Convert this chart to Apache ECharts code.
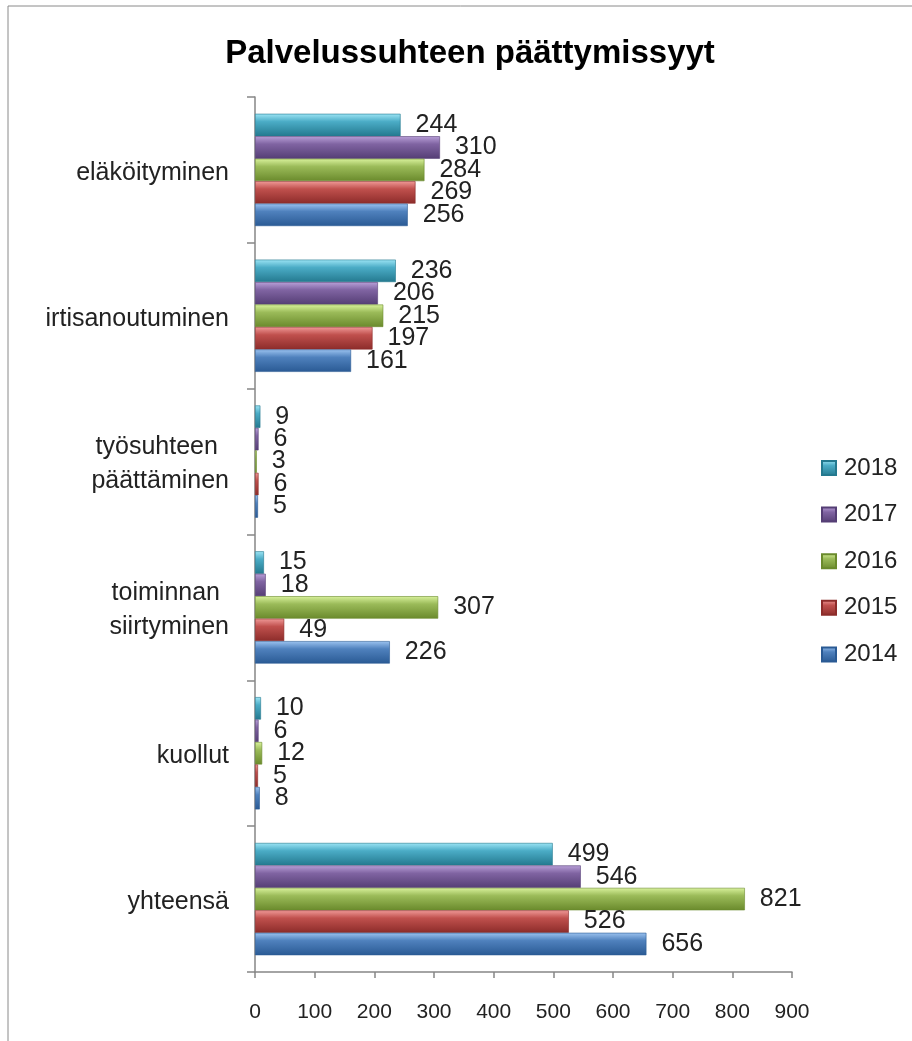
<!DOCTYPE html>
<html><head><meta charset="utf-8">
<script src="https://cdn.jsdelivr.net/npm/echarts@6/dist/echarts.min.js"></script>
<style>html,body{margin:0;padding:0;background:#fff}#c{width:912px;height:1041px}</style>
</head><body><div id="c"></div>
<script>
const categories = ['eläköityminen', 'irtisanoutuminen', 'työsuhteen \npäättäminen', 'toiminnan \nsiirtyminen', 'kuollut', 'yhteensä'];
const years = ['2014', '2015', '2016', '2017', '2018'];
const v2014 = [256, 161, 5, 226, 8, 656];
const v2015 = [269, 197, 6, 49, 5, 526];
const v2016 = [284, 215, 3, 307, 12, 821];
const v2017 = [310, 206, 6, 18, 6, 546];
const v2018 = [244, 236, 9, 15, 10, 499];
const xTicks = [0, 900, 100];

const values = [v2014, v2015, v2016, v2017, v2018];
const palettes = [
  ['#9cc3f0', '#4f81bd', '#2a5a94'],
  ['#f09a98', '#c0504d', '#8c2c2a'],
  ['#d9f29c', '#9bbb59', '#6a8a2c'],
  ['#b9a0d8', '#8064a2', '#553e75'],
  ['#9de5f5', '#4bacc6', '#24798f']
];
const FONT = 'Liberation Sans, Arial, sans-serif';
function grad(p) {
  return new echarts.graphic.LinearGradient(0, 0, 0, 1, [
    {offset: 0, color: p[0]}, {offset: 0.35, color: p[1]}, {offset: 1, color: p[2]}
  ]);
}
const order = [4, 3, 2, 1, 0];
const chart = echarts.init(document.getElementById('c'));
chart.setOption({
  animation: false,
  title: {
    text: 'Palvelussuhteen päättymissyyt', left: 465, top: 32, textAlign: 'center',
    textStyle: {fontFamily: FONT, fontSize: 33, fontWeight: 'bold', color: '#000'}
  },
  graphic: [{type: 'rect', shape: {x: 8, y: 6, width: 1000, height: 1100}, style: {fill: 'none', stroke: '#8a8a8a', lineWidth: 1}, silent: true}],
  legend: {
    orient: 'vertical', left: 816, top: 449, itemWidth: 14, itemHeight: 14, itemGap: 18.6,
    data: years.slice().reverse(), icon: 'rect',
    textStyle: {fontFamily: FONT, fontSize: 24, color: '#222', lineHeight: 28, padding: [0, 0, 0, 3]}
  },
  grid: {left: 255, right: 120, top: 97, bottom: 69, containLabel: false},
  xAxis: {
    type: 'value', min: xTicks[0], max: xTicks[1], interval: xTicks[2],
    axisLine: {show: true, lineStyle: {color: '#868686', width: 1.5}},
    axisTick: {show: true, length: 6, lineStyle: {color: '#868686', width: 1.5}},
    splitLine: {show: false},
    axisLabel: {margin: 30, fontFamily: FONT, fontSize: 21, color: '#222'}
  },
  yAxis: {
    type: 'category', data: categories, inverse: true,
    axisLine: {show: true, lineStyle: {color: '#868686', width: 1.5}},
    axisTick: {show: true, length: 8, lineStyle: {color: '#868686', width: 1.5}},
    axisLabel: {
      margin: 26, fontFamily: FONT, fontSize: 25, color: '#222', lineHeight: 34,
      formatter: function (s) { return s.split('\n').map(l => '{c|' + l + '}').join('\n'); },
      rich: {c: {align: 'center', fontFamily: FONT, fontSize: 25, color: '#222', lineHeight: 34, padding: [6, 0, 0, 0]}}
    }
  },
  series: order.map(i => ({
    name: years[i], type: 'bar', data: values[i], barGap: '0%', barCategoryGap: '23%',
    itemStyle: {color: grad(palettes[i]), borderColor: palettes[i][2], borderWidth: 0.6},
    label: {show: true, position: 'right', distance: 15, fontFamily: FONT, fontSize: 25, color: '#222'}
  }))
});
</script></body></html>
